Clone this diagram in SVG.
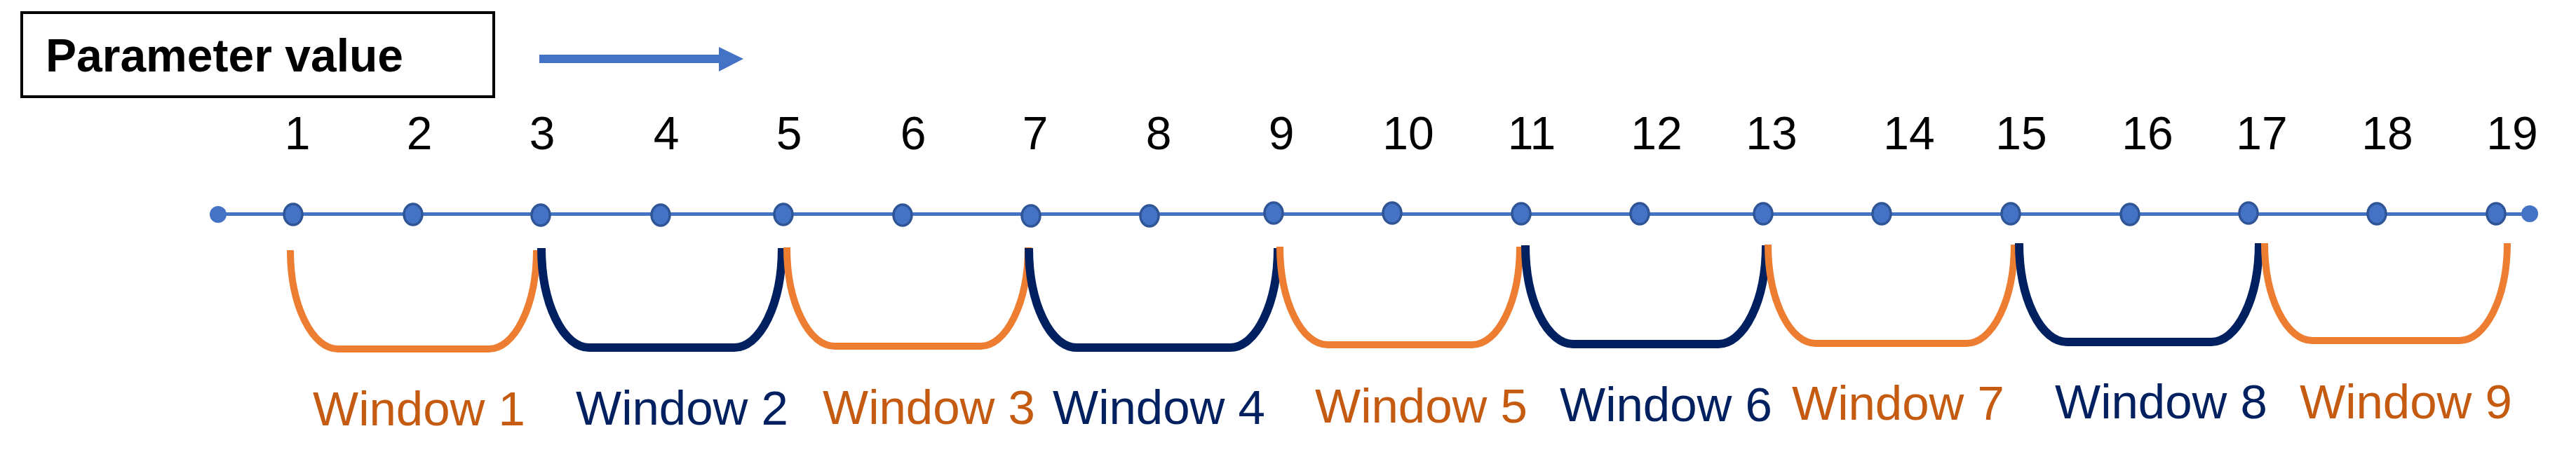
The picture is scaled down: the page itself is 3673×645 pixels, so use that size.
<svg xmlns="http://www.w3.org/2000/svg" width="3673" height="645" viewBox="0 0 3673 645">
<style>
.num{font-family:"Liberation Sans",Arial,sans-serif;font-size:66px;fill:#000;text-anchor:middle}
.wl{font-family:"Liberation Sans",Arial,sans-serif;font-size:69px}
.o{fill:#C55A11}
.n{fill:#002060}
.dot{fill:#4472C4;stroke:#2F5597;stroke-width:3.5}
.end{fill:#4472C4}
.bo{fill:none;stroke:#ED7D31;stroke-width:10}
.bn{fill:none;stroke:#002060;stroke-width:12}
</style>
<rect width="3673" height="645" fill="#fff"/>
<g id="legend">
<rect x="31" y="18" width="673" height="120" fill="#fff" stroke="#000" stroke-width="4"/>
<text x="65" y="102" font-family="Liberation Sans, Arial, sans-serif" font-size="66" font-weight="bold" fill="#000">Parameter value</text>
<polygon points="769,78 1025,78 1025,67 1060,84 1025,102 1025,90 769,90" fill="#4472C4"/>
</g>
<g id="connectors">
<line x1="311" y1="305.5" x2="3607" y2="305.5" stroke="#4472C4" stroke-width="5"/>
</g>
<g id="axis-ends">
<circle class="end" cx="311" cy="306" r="12"/>
<circle class="end" cx="3607" cy="305" r="12"/>
</g>
<g id="points">
<g id="p1"><ellipse class="dot" cx="418" cy="306" rx="13" ry="15"/><text class="num" x="424" y="213">1</text></g>
<g id="p2"><ellipse class="dot" cx="589" cy="306" rx="13" ry="15"/><text class="num" x="598" y="213">2</text></g>
<g id="p3"><ellipse class="dot" cx="771" cy="307" rx="13" ry="15"/><text class="num" x="773" y="213">3</text></g>
<g id="p4"><ellipse class="dot" cx="942" cy="307" rx="13" ry="15"/><text class="num" x="950" y="213">4</text></g>
<g id="p5"><ellipse class="dot" cx="1117" cy="306" rx="13" ry="15"/><text class="num" x="1125" y="213">5</text></g>
<g id="p6"><ellipse class="dot" cx="1287" cy="307" rx="13" ry="15"/><text class="num" x="1302" y="213">6</text></g>
<g id="p7"><ellipse class="dot" cx="1470" cy="308" rx="13" ry="15"/><text class="num" x="1476" y="213">7</text></g>
<g id="p8"><ellipse class="dot" cx="1639" cy="308" rx="13" ry="15"/><text class="num" x="1652" y="213">8</text></g>
<g id="p9"><ellipse class="dot" cx="1816" cy="304" rx="13" ry="15"/><text class="num" x="1827" y="213">9</text></g>
<g id="p10"><ellipse class="dot" cx="1985" cy="304" rx="13" ry="15"/><text class="num" x="2008" y="213">10</text></g>
<g id="p11"><ellipse class="dot" cx="2169" cy="305" rx="13" ry="15"/><text class="num" x="2184" y="213">11</text></g>
<g id="p12"><ellipse class="dot" cx="2338" cy="305" rx="13" ry="15"/><text class="num" x="2362" y="213">12</text></g>
<g id="p13"><ellipse class="dot" cx="2514" cy="305" rx="13" ry="15"/><text class="num" x="2526" y="213">13</text></g>
<g id="p14"><ellipse class="dot" cx="2683" cy="305" rx="13" ry="15"/><text class="num" x="2722" y="213">14</text></g>
<g id="p15"><ellipse class="dot" cx="2867" cy="305" rx="13" ry="15"/><text class="num" x="2882" y="213">15</text></g>
<g id="p16"><ellipse class="dot" cx="3037" cy="306" rx="13" ry="15"/><text class="num" x="3062" y="213">16</text></g>
<g id="p17"><ellipse class="dot" cx="3206" cy="304" rx="13" ry="15"/><text class="num" x="3225" y="213">17</text></g>
<g id="p18"><ellipse class="dot" cx="3389" cy="305" rx="13" ry="15"/><text class="num" x="3404" y="213">18</text></g>
<g id="p19"><ellipse class="dot" cx="3559" cy="305" rx="13" ry="15"/><text class="num" x="3582" y="213">19</text></g>
</g>
<g id="windows">
<g id="w1"><path class="bo" d="M414,357 A68,141 0 0 0 482,498 L697,498 A68,141 0 0 0 765,357"/><text class="wl o" x="446" y="607">Window 1</text></g>
<g id="w2"><path class="bn" d="M772,354 A68,142 0 0 0 840,496 L1047,496 A68,142 0 0 0 1115,354"/><text class="wl n" x="821" y="606">Window 2</text></g>
<g id="w3"><path class="bo" d="M1122,353 A68,141 0 0 0 1190,494 L1398,494 A68,141 0 0 0 1466,353"/><text class="wl o" x="1173" y="605">Window 3</text></g>
<g id="w4"><path class="bn" d="M1467,354 A68,142 0 0 0 1535,496 L1754,496 A68,142 0 0 0 1822,354"/><text class="wl n" x="1501" y="605">Window 4</text></g>
<g id="w5"><path class="bo" d="M1825,352 A68,140 0 0 0 1893,492 L2099,492 A68,140 0 0 0 2167,352"/><text class="wl o" x="1875" y="603">Window 5</text></g>
<g id="w6"><path class="bn" d="M2175,350 A68,141 0 0 0 2243,491 L2450,491 A68,141 0 0 0 2518,350"/><text class="wl n" x="2224" y="601">Window 6</text></g>
<g id="w7"><path class="bo" d="M2521,349 A68,141 0 0 0 2589,490 L2804,490 A68,141 0 0 0 2872,349"/><text class="wl o" x="2555" y="599">Window 7</text></g>
<g id="w8"><path class="bn" d="M2879,347 A68,141 0 0 0 2947,488 L3153,488 A68,141 0 0 0 3221,347"/><text class="wl n" x="2930" y="597">Window 8</text></g>
<g id="w9"><path class="bo" d="M3229,347 A68,139 0 0 0 3297,486 L3507,486 A68,139 0 0 0 3575,347"/><text class="wl o" x="3279" y="597">Window 9</text></g>
</g>
</svg>
